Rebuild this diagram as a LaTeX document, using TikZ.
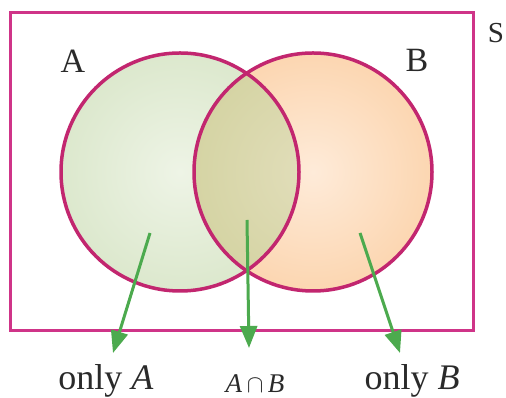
\documentclass[tikz,border=0pt]{standalone}
\usepackage{fontspec}
\setmainfont{Liberation Serif}
\usepackage{xcolor}
\usepackage{tikz}
\usetikzlibrary{positioning,arrows.meta}
\definecolor{ground}{HTML}{FFFFFF}
\definecolor{frame}{HTML}{CF3488}
\definecolor{rim}{HTML}{C2266F}
\definecolor{setain}{HTML}{EEF4E6}
\definecolor{setaout}{HTML}{DCE8CD}
\definecolor{setbin}{HTML}{FEEBD9}
\definecolor{setbout}{HTML}{FCD6B1}
\definecolor{bothin}{HTML}{E2DEBB}
\definecolor{bothout}{HTML}{D5D4A4}
\definecolor{pointer}{HTML}{4CAA4E}
\definecolor{ink}{HTML}{2A2A2A}
\tikzset{
  universe/.style = {draw=frame, line width=3pt},
  setrim/.style   = {draw=rim, line width=3.5pt},
  setlab/.style   = {font=\fontsize{34}{38}\selectfont\color{ink}, inner sep=0pt, outer sep=0pt},
  unilab/.style   = {font=\fontsize{29}{33}\selectfont\color{ink}, inner sep=0pt, outer sep=0pt},
  partlab/.style  = {font=\fontsize{36}{40}\selectfont\color{ink}, anchor=base, inner sep=0pt, outer sep=0pt},
  partlabsm/.style= {font=\fontsize{27}{31}\selectfont\color{ink}, anchor=base, inner sep=0pt, outer sep=0pt},
  flow/.style     = {-{Triangle[length=22pt,width=17pt]}, draw=pointer, line width=3pt},
}
\begin{document}
\begin{tikzpicture}[x=1pt,y=1pt]
\path[use as bounding box, fill=ground] (0,0) rectangle (506,398);

% ---- the two sets -------------------------------------------------------
\shade[inner color=setain, outer color=setaout] (180,226) circle (119);
\shade[inner color=setbin, outer color=setbout] (313,226) circle (119);
\begin{scope}
  \clip (180,226) circle (119);
  \shade[inner color=bothin, outer color=bothout] (313,226) circle (119);
\end{scope}
\draw[setrim] (180,226) circle (119);
\draw[setrim] (313,226) circle (119);

% ---- universe -----------------------------------------------------------
\draw[universe] (10,67) rectangle (473,385);

\node[setlab, anchor=base] (labA) at (73,325) {A};
\node[setlab, anchor=base] (labB) at (417,326) {B};
\node[unilab, anchor=base] (labS) at (496,355) {S};

% ---- regions ------------------------------------------------------------
\node[partlab]   (onlyA) at (106,8) {only \textit{A}};
\node[partlabsm] (both)  at (255,5) {\textit{A}\,$\cap$\,\textit{B}};
\node[partlab]   (onlyB) at (412,8) {only \textit{B}};

\coordinate (fromA) at (150,165);
\coordinate (fromAB) at (247,178);
\coordinate (fromB) at (360,165);
\coordinate (toA) at (113,45);
\coordinate (toAB) at (249,50);
\coordinate (toB) at (400,45);

\draw[flow] (fromA) -- (toA);
\draw[flow] (fromAB) -- (toAB);
\draw[flow] (fromB) -- (toB);

\end{tikzpicture}
\end{document}
